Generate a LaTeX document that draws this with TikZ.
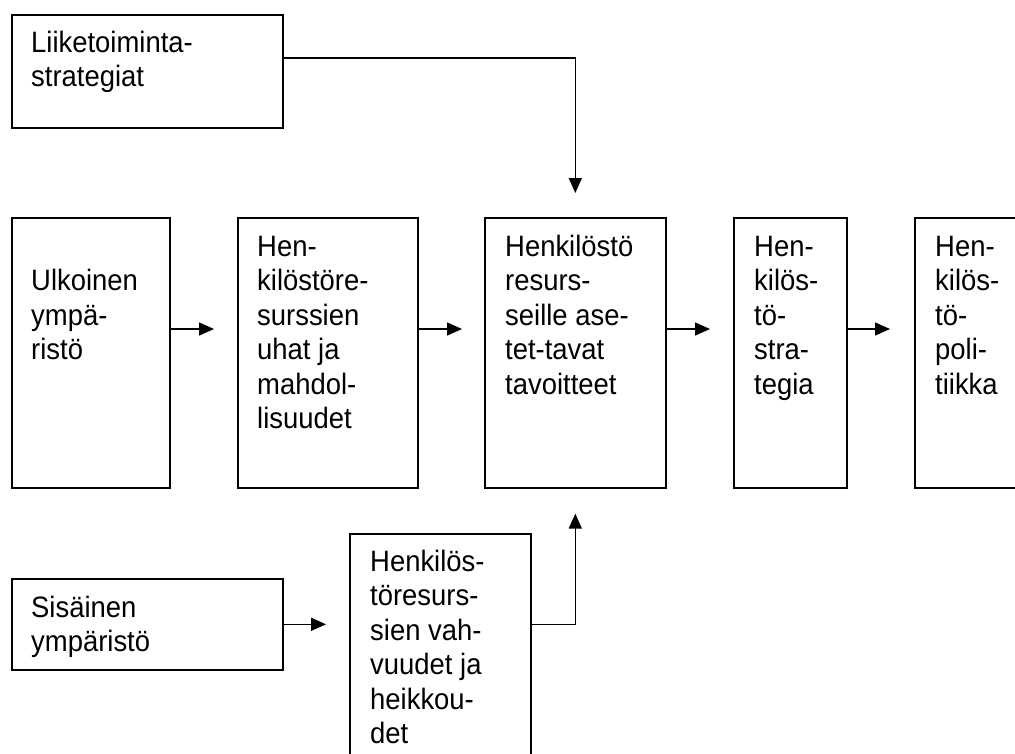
\documentclass[tikz,border=0pt]{standalone}
\usepackage{fontspec}
\setmainfont[FakeStretch=0.93]{Liberation Sans}
\usetikzlibrary{arrows.meta}
\tikzset{
  box/.style={draw=black, line width=1.6pt, rectangle, inner sep=0pt, anchor=north west},
  txt/.style={anchor=north west, inner sep=0pt, align=left, font=\fontsize{29.5}{34.5}\selectfont},
  arr/.style={line width=1.5pt, -{Triangle[length=15pt,width=13pt]}}
}
\begin{document}
\begin{tikzpicture}[x=1pt,y=-1pt]
\useasboundingbox (0,0) rectangle (1015,753);
\clip (0,0) rectangle (1015,753);
\fill[white] (0,0) rectangle (1015,753);
% boxes
\node[box, minimum width=271pt, minimum height=113pt] (lt) at (11,14) {};
\node[box, minimum width=158pt, minimum height=270pt] (b1) at (11,217) {};
\node[box, minimum width=180pt, minimum height=270pt] (b2) at (237,217) {};
\node[box, minimum width=181pt, minimum height=270pt] (b3) at (484,217) {};
\node[box, minimum width=113pt, minimum height=270pt] (b4) at (733,217) {};
\node[box, minimum width=130pt, minimum height=270pt] (b5) at (914,217) {};
\node[box, minimum width=271pt, minimum height=91pt] (s) at (11,578) {};
\node[box, minimum width=181pt, minimum height=240pt] (h) at (349,533) {};
% texts
\node[txt] (tlt) at (31,27.85) {\strut Liiketoiminta-\\strategiat};
\node[txt] (tb1) at (31,266.35) {\strut Ulkoinen\\ympä-\\ristö};
\node[txt] (tb2) at (257,231.85) {\strut Hen-\\kilöstöre-\\surssien\\uhat ja\\mahdol-\\lisuudet};
\node[txt] (tb3) at (505,231.85) {\strut Henkilöstö\\resurs-\\seille ase-\\tet-tavat\\tavoitteet};
\node[txt] (tb4) at (754,231.85) {\strut Hen-\\kilös-\\tö-\\stra-\\tegia};
\node[txt] (tb5) at (935,231.85) {\strut Hen-\\kilös-\\tö-\\poli-\\tiikka};
\node[txt] (ts) at (31,592.85) {\strut Sisäinen\\ympäristö};
\node[txt] (th) at (370,546.85) {\strut Henkilös-\\töresurs-\\sien vah-\\vuudet ja\\heikkou-\\det};
% connectors
\coordinate (r) at (0,329);
\coordinate (lr) at (0,58);
\draw[arr, shorten >=23pt] (b1.east |- r) -- (b2.west |- r);
\draw[arr, shorten >=22pt] (b2.east |- r) -- (b3.west |- r);
\draw[arr, shorten >=23pt] (b3.east |- r) -- (b4.west |- r);
\draw[arr, shorten >=24pt] (b4.east |- r) -- (b5.west |- r);
\draw[arr, shorten >=23pt] (s.east) -- (h.west |- s.east);
\draw[arr, shorten >=24pt] (lt.east |- lr) -| (b3.north);
\draw[arr, shorten >=25pt] (h.east |- s.east) -| (b3.south);
\end{tikzpicture}
\end{document}
